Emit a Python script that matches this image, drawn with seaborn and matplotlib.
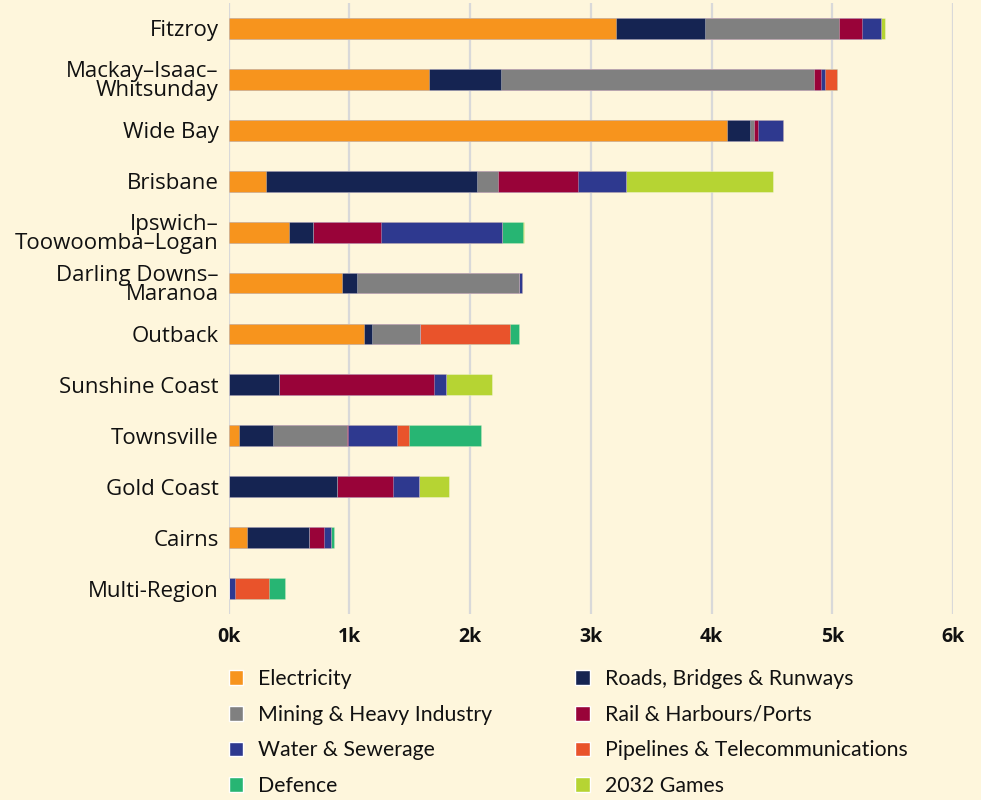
import seaborn as sns
import matplotlib.pyplot as plt
import pandas as pd
import numpy as np
from matplotlib.patches import Patch

# regions top to bottom
regions = ["Fitzroy", "Mackay–Isaac–\nWhitsunday", "Wide Bay", "Brisbane",
           "Ipswich–\nToowoomba–Logan", "Darling Downs–\nMaranoa", "Outback",
           "Sunshine Coast", "Townsville", "Gold Coast", "Cairns", "Multi-Region"]

categories = ["Electricity", "Roads, Bridges & Runways", "Mining & Heavy Industry",
              "Rail & Harbours/Ports", "Water & Sewerage",
              "Pipelines & Telecommunications", "Defence", "2032 Games"]

# values ($m), one list per category, same order as regions
electricity = [3205, 1664, 4129, 313, 501, 942, 1120, 0, 83, 0, 152, 0]
roads       = [744, 589, 186, 1742, 197, 124, 69, 415, 289, 896, 512, 0]
mining      = [1103, 2598, 40, 176, 0, 1338, 400, 0, 610, 0, 0, 0]
rail        = [198, 57, 32, 662, 567, 0, 0, 1291, 8, 463, 130, 0]
water       = [151, 29, 209, 402, 996, 29, 0, 99, 408, 221, 52, 50]
pipelines   = [0, 101, 0, 0, 0, 0, 745, 0, 94, 0, 0, 283]
defence     = [0, 0, 0, 0, 175, 0, 73, 0, 598, 0, 28, 133]
games       = [32, 0, 0, 1218, 9, 0, 0, 374, 0, 248, 0, 0]

colors = ["#F7941D", "#152452", "#808080", "#990339",
          "#2E398F", "#E9532B", "#27B573", "#B6D433"]

bg = "#FEF6DC"

df = pd.DataFrame({"region": regions})
for name, vals in zip(categories, [electricity, roads, mining, rail, water,
                                   pipelines, defence, games]):
    df[name] = vals
cum = df[categories].cumsum(axis=1)

sns.set_theme(style="white")
plt.rcParams["font.family"] = ["Open Sans", "DejaVu Sans"]

fig = plt.figure(figsize=(9.81, 8.0), dpi=100, facecolor=bg)
ax = fig.add_axes([228.5 / 981, 1 - 614 / 800, (953 - 228.5) / 981, 611 / 800])
ax.set_facecolor(bg)

# draw stacked bars back to front using cumulative totals
for i in range(len(categories) - 1, -1, -1):
    sns.barplot(x=cum[categories[i]], y=df["region"], color=colors[i],
                orient="h", width=0.41, saturation=1, ax=ax,
                edgecolor=(1, 1, 1, 0.35), linewidth=0.6, zorder=3)

ax.set_xlim(0, 6000)
ax.set_ylim(11.5, -0.5)
ax.set_xticks(np.arange(0, 6001, 1000))
ax.set_xticklabels([f"{k}k" for k in range(7)], fontweight="bold", fontsize=14)
ax.xaxis.grid(True, color="#D9D9D9", linewidth=1.6, zorder=0)
ax.set_axisbelow(True)
ax.tick_params(axis="x", length=0, pad=9, colors="#111111")
ax.tick_params(axis="y", length=0, pad=7, labelsize=16, colors="#111111")
for lbl in ax.get_yticklabels():
    lbl.set_linespacing(0.9)
ax.set_xlabel("")
ax.set_ylabel("")
for s in ax.spines.values():
    s.set_visible(False)

order = [0, 2, 4, 6, 1, 3, 5, 7]
handles = [Patch(facecolor=colors[i], label=categories[i]) for i in order]
fig.legend(handles=handles, loc="upper left", ncol=2,
           bbox_to_anchor=(228.5 / 981, 1 - 669 / 800), frameon=False,
           prop={"family": ["Lato", "DejaVu Sans"], "size": 15.3},
           handlelength=0.7, handleheight=0.7, borderpad=0, borderaxespad=0,
           handletextpad=0.7, columnspacing=3.9, labelspacing=0.74,
           labelcolor="#111111")

fig.savefig("out.png", dpi=100, facecolor=bg)
